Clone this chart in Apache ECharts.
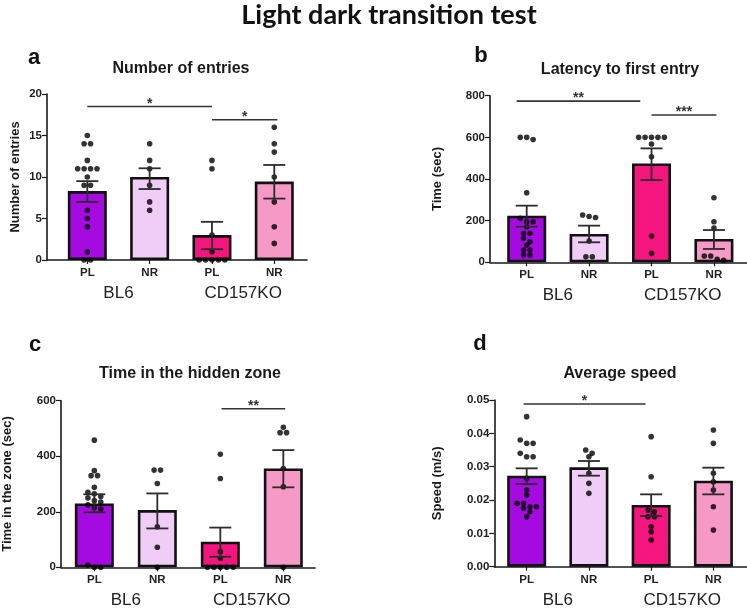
<!DOCTYPE html>
<html><head><meta charset="utf-8">
<script src="https://cdn.jsdelivr.net/npm/echarts@6/dist/echarts.min.js"></script>
<style>html,body{margin:0;padding:0;background:#fff}#c{width:747px;height:611px}</style>
</head><body><div id="c"></div>
<script>
// ---------- data ----------
const groups = ['PL', 'NR', 'PL', 'NR'];
const strains = ['BL6', 'CD157KO'];
const barColors = ['#A50BE0', '#F0CDF6', '#F4167E', '#F799C6'];

// a: Number of entries
const entriesMean = [8.3, 10.0, 3.0, 9.45];
const entriesErrHigh = [9.5, 11.05, 4.6, 11.45];
const entriesErrLow = [7.0, 8.55, 1.3, 7.4];
const entriesDots = [
  [15, 14, 14, 12, 11, 11, 11, 11, 10, 9, 9, 6, 5, 4, 1, 0, 0],
  [14, 12, 11, 9, 7, 6],
  [12, 11, 3, 1, 0, 0, 0, 0, 0],
  [16, 14, 13, 10, 7, 4, 2]
];
const entriesSig = [[0, 2, 18.5, '*'], [2, 3.05, 16.9, '*']];
const entriesTicks = [0, 20, 5];

// b: Latency to first entry
const latencyMean = [224, 136, 475, 112];
const latencyErrHigh = [272, 176, 547, 155];
const latencyErrLow = [171, 96, 395, 64];
const latencyDots = [
  [600, 590, 600, 334, 211, 195, 195, 171, 139, 139, 115, 99, 83, 59, 59, 35, 35],
  [227, 220, 215, 102, 27, 27],
  [600, 600, 600, 600, 600, 568, 507, 126, 43],
  [310, 195, 165, 30, 15, 10, 30]
];
const latencySig = [[-0.16, 1.82, 774, '**'], [2, 3.04, 707, '***']];
const latencyTicks = [0, 800, 200];

// c: Time in the hidden zone
const hiddenMean = [230, 206, 92, 356];
const hiddenErrHigh = [263, 266, 143, 422];
const hiddenErrLow = [198, 140, 38, 288];
const hiddenDots = [
  [458, 348, 330, 330, 288, 270, 265, 255, 250, 240, 235, 225, 215, 210, 8, 0, 0],
  [350, 350, 302, 146, 72, 0],
  [407, 320, 56, 32, 0, 0, 0, 0, 0],
  [504, 485, 485, 356, 290, 0]
];
const hiddenSig = [[2.02, 3.03, 571, '**']];
const hiddenTicks = [0, 600, 200];

// d: Average speed
const speedMean = [0.0273, 0.0298, 0.0185, 0.0258];
const speedErrHigh = [0.0295, 0.0317, 0.0217, 0.0297];
const speedErrLow = [0.0248, 0.0273, 0.0152, 0.0217];
const speedDots = [
  [0.045, 0.038, 0.037, 0.037, 0.034, 0.033, 0.033, 0.0265, 0.023, 0.0215, 0.019, 0.019, 0.018, 0.018, 0.0175, 0.0165, 0.015],
  [0.035, 0.034, 0.033, 0.028, 0.025, 0.022],
  [0.039, 0.027, 0.017, 0.0165, 0.015, 0.015, 0.012, 0.0105, 0.008],
  [0.041, 0.037, 0.028, 0.0255, 0.023, 0.018, 0.011]
];
const speedSig = [[-0.05, 1.91, 0.0488, '*']];
const speedTicks = [0, 0.05, 0.01];

// ---------- layout ----------
const panels = [
  {letter: 'a', title: 'Number of entries', yName: 'Number of entries', mean: entriesMean, hi: entriesErrHigh, lo: entriesErrLow, dots: entriesDots, sig: entriesSig, ticks: entriesTicks,
   grid: {left: 47, top: 94, width: 260, height: 166}, xr: [-0.647, 3.525], nameGap: 25, titlePos: [181, 69], letterPos: [34, 58], dec: 0},
  {letter: 'b', title: 'Latency to first entry', yName: 'Time (sec)', mean: latencyMean, hi: latencyErrHigh, lo: latencyErrLow, dots: latencyDots, sig: latencySig, ticks: latencyTicks,
   grid: {left: 490, top: 95.7, width: 257, height: 166.6}, xr: [-0.588, 3.53], nameGap: 46, titlePos: [620, 70], letterPos: [481, 56], dec: 0},
  {letter: 'c', title: 'Time in the hidden zone', yName: 'Time in the zone (sec)', mean: hiddenMean, hi: hiddenErrHigh, lo: hiddenErrLow, dots: hiddenDots, sig: hiddenSig, ticks: hiddenTicks,
   grid: {left: 61, top: 400.7, width: 254, height: 166.6}, xr: [-0.529, 3.503], nameGap: 47, titlePos: [190, 374], letterPos: [35, 345], dec: 0},
  {letter: 'd', title: 'Average speed', yName: 'Speed (m/s)', mean: speedMean, hi: speedErrHigh, lo: speedErrLow, dots: speedDots, sig: speedSig, ticks: speedTicks,
   grid: {left: 494.3, top: 400, width: 253, height: 166.7}, xr: [-0.52, 3.54], nameGap: 50, titlePos: [620, 374], letterPos: [480, 344], dec: 2}
];

const FONT = '"Liberation Sans", Arial, sans-serif';
const DOT = 5.6;

// spread dots of similar value side by side (computed, centred rows)
function swarm(values, gi, p) {
  const pxY = p.grid.height / (p.ticks[1] - p.ticks[0]);
  const pxX = p.grid.width / (p.xr[1] - p.xr[0]);
  const step = (DOT * 1.15) / pxX;
  const sorted = values.slice().sort((a, b) => b - a);
  const out = [];
  let i = 0;
  while (i < sorted.length) {
    let j = i;
    while (j + 1 < sorted.length && (sorted[i] - sorted[j + 1]) * pxY < DOT * 0.8) j++;
    const n = j - i + 1;
    for (let k = 0; k < n; k++) out.push([gi + (k - (n - 1) / 2) * step, sorted[i + k]]);
    i = j + 1;
  }
  return out;
}

function errItem(params, api) {
  const x = api.value(0), lo = api.value(1), hi = api.value(2);
  const a = api.coord([x, hi]), b = api.coord([x, lo]);
  const hw = 11;
  const st = {stroke: '#2b2b2b', lineWidth: 1.8, fill: null};
  return {type: 'group', children: [
    {type: 'line', shape: {x1: a[0], y1: a[1], x2: b[0], y2: b[1]}, style: st},
    {type: 'line', shape: {x1: a[0] - hw, y1: a[1], x2: a[0] + hw, y2: a[1]}, style: st},
    {type: 'line', shape: {x1: b[0] - hw, y1: b[1], x2: b[0] + hw, y2: b[1]}, style: st}
  ]};
}
function sigItem(params, api) {
  const a = api.coord([api.value(0), api.value(2)]);
  const b = api.coord([api.value(1), api.value(2)]);
  return {type: 'group', children: [
    {type: 'line', shape: {x1: a[0], y1: a[1], x2: b[0], y2: b[1]}, style: {stroke: '#333', lineWidth: 1.6}},
    {type: 'text', x: (a[0] + b[0]) / 2, y: a[1] - 2.5, style: {text: api.value(3), fill: '#333', font: 'bold 14px ' + FONT, align: 'center', verticalAlign: 'middle'}}
  ]};
}

const option = {animation: false, backgroundColor: '#fff', grid: [], xAxis: [], yAxis: [], series: [], graphic: []};
option.graphic.push({type: 'text', x: 389, y: 15, style: {text: 'Light dark transition test', font: 'bold 27px Lato, "Open Sans", sans-serif', fill: '#111', align: 'center', verticalAlign: 'middle'}});

panels.forEach((p, pi) => {
  option.grid.push(Object.assign({containLabel: false}, p.grid));
  option.graphic.push({type: 'text', x: p.letterPos[0], y: p.letterPos[1], style: {text: p.letter, font: 'bold 22px ' + FONT, fill: '#111', align: 'center', verticalAlign: 'middle'}});
  option.graphic.push({type: 'text', x: p.titlePos[0], y: p.titlePos[1], style: {text: p.title, font: 'bold 16px ' + FONT, fill: '#1a1a1a', align: 'center', verticalAlign: 'middle'}});
  const xi = option.xAxis.length;
  option.xAxis.push({
    type: 'value', gridIndex: pi, min: p.xr[0], max: p.xr[1], position: 'bottom',
    axisLine: {show: true, onZero: false, lineStyle: {color: '#1a1a1a', width: 1.6}},
    axisTick: {show: true, customValues: [0, 1, 2, 3], length: 4, lineStyle: {color: '#1a1a1a', width: 1.2}},
    axisLabel: {customValues: [0, 1, 2, 3], formatter: v => groups[Math.round(v)], fontFamily: FONT, fontWeight: 'bold', fontSize: 11.5, color: '#222', margin: 7},
    splitLine: {show: false}
  });
  option.xAxis.push({
    type: 'value', gridIndex: pi, min: p.xr[0], max: p.xr[1], position: 'bottom',
    axisLine: {show: false, onZero: false}, axisTick: {show: false},
    axisLabel: {customValues: [0.5, 2.5], formatter: v => strains[v < 1.5 ? 0 : 1], fontFamily: FONT, fontSize: 17, color: '#222', margin: 25},
    splitLine: {show: false}
  });
  const yi = option.yAxis.length;
  option.yAxis.push({
    type: 'value', gridIndex: pi, min: p.ticks[0], max: p.ticks[1], interval: p.ticks[2], position: 'left',
    name: p.yName, nameLocation: 'middle', nameGap: p.nameGap, nameRotate: 90,
    nameTextStyle: {fontFamily: FONT, fontWeight: 'bold', fontSize: 13, color: '#1a1a1a'},
    axisLine: {show: true, onZero: false, lineStyle: {color: '#1a1a1a', width: 1.6}},
    axisTick: {show: true, length: 5, lineStyle: {color: '#1a1a1a', width: 1.2}},
    axisLabel: {fontFamily: FONT, fontWeight: 'bold', fontSize: 11.5, color: '#222', margin: 5, formatter: v => v.toFixed(p.dec)},
    splitLine: {show: false}
  });
  option.series.push({
    type: 'bar', xAxisIndex: xi, yAxisIndex: yi, barWidth: 39, z: 2,
    data: p.mean.map((m, i) => ({value: [i, m], itemStyle: {color: barColors[i], borderColor: '#111', borderWidth: 2.6}}))
  });
  const dotData = [];
  p.dots.forEach((vals, gi) => swarm(vals, gi, p).forEach(d => dotData.push(d)));
  option.series.push({type: 'scatter', xAxisIndex: xi, yAxisIndex: yi, symbolSize: DOT, z: 4, itemStyle: {color: '#000'}, data: dotData});
  option.series.push({type: 'custom', xAxisIndex: xi, yAxisIndex: yi, z: 5, renderItem: errItem,
    data: p.mean.map((m, i) => [i, p.lo[i], p.hi[i]])});
  option.series.push({type: 'custom', xAxisIndex: xi, yAxisIndex: yi, z: 5, renderItem: sigItem, clip: false,
    data: p.sig});
});

const chart = echarts.init(document.getElementById('c'), null, {renderer: 'canvas'});
chart.setOption(option);
</script></body></html>
